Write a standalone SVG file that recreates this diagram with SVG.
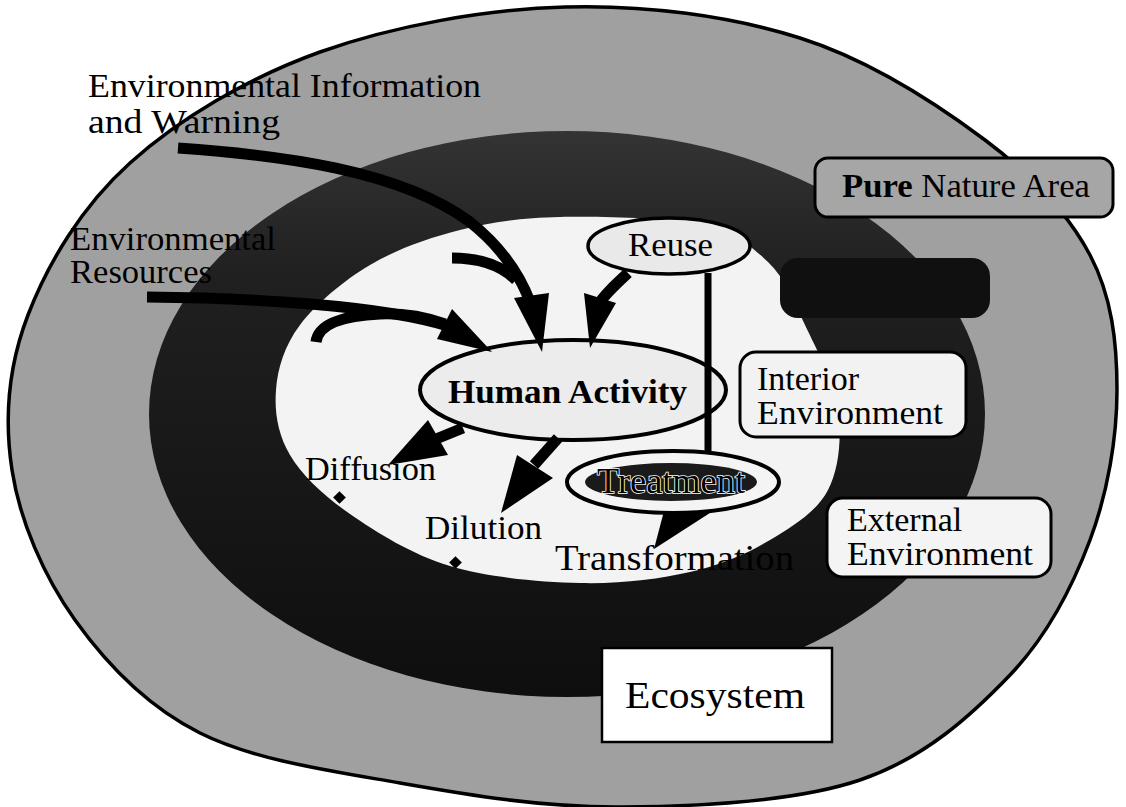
<svg xmlns="http://www.w3.org/2000/svg" width="1126" height="807" viewBox="0 0 1126 807">
<defs>
<style>
.t{font-family:"Liberation Serif","Times New Roman",serif;fill:#000;}
.shaft{fill:none;stroke:#000;stroke-width:11;stroke-linecap:butt;}
.head{fill:#000;stroke:none;}
.rbox{stroke:#000;stroke-width:3;}
</style>
<linearGradient id="darkg" x1="0" y1="130" x2="0" y2="700" gradientUnits="userSpaceOnUse">
<stop offset="0" stop-color="#343434"/>
<stop offset="0.25" stop-color="#202020"/>
<stop offset="1" stop-color="#0e0e0e"/>
</linearGradient>
</defs>
<rect x="0" y="0" width="1126" height="807" fill="#ffffff"/>

<g id="pure-nature-ring">
<path d="M565,7 C645,4.7 730,15.8 800,38 C870,60.2 936.7,103.8 985,140 C1033.3,176.2 1068,213.3 1090,255 C1112,296.7 1117,342.5 1117,390 C1117,437.5 1107.8,492.5 1090,540 C1072.2,587.5 1048.3,635 1010,675 C971.7,715 925,758 860,780 C795,802 696.7,806.5 620,807 C543.3,807.5 470,795.3 400,783 C330,770.7 254.2,760.2 200,733 C145.8,705.8 106.3,663.8 75,620 C43.7,576.2 19.8,520.8 12,470 C4.2,419.2 8.3,366.2 28,315 C47.7,263.8 81.3,206.8 130,163 C178.7,119.2 247.5,78 320,52 C392.5,26 485,9.3 565,7 Z" fill="#a0a0a0" stroke="#000" stroke-width="3.5"/>
</g>

<g id="dark-ring">
<ellipse cx="567" cy="414" rx="418" ry="283" fill="url(#darkg)"/>
</g>

<g id="interior-area">
<path d="M560,217 C600,216.2 665.3,217.5 700,225 C734.7,232.5 750.5,245.3 768,262 C785.5,278.7 793.3,300.3 805,325 C816.7,349.7 834.2,382.5 838,410 C841.8,437.5 839.3,468.3 828,490 C816.7,511.7 793,526.3 770,540 C747,553.7 721.7,564.8 690,572 C658.3,579.2 620,584 580,583 C540,582 488.3,577.5 450,566 C411.7,554.5 376.7,532.5 350,514 C323.3,495.5 302.3,475.7 290,455 C277.7,434.3 274.3,411.7 276,390 C277.7,368.3 284.3,345.8 300,325 C315.7,304.2 343.3,280.8 370,265 C396.7,249.2 428.3,238 460,230 C491.7,222 520,217.8 560,217 Z" fill="#f3f3f3"/>
</g>

<g id="dark-box">
<rect x="780" y="258" width="210" height="60" rx="18" fill="#101010"/>
</g>

<g id="pure-nature-label">
<rect class="rbox" x="815" y="158" width="298" height="59" rx="13" fill="#a6a6a6"/>
<text class="t" x="842" y="197" font-size="33" textLength="248" lengthAdjust="spacingAndGlyphs"><tspan font-weight="bold">Pure</tspan> Nature Area</text>
</g>

<g id="env-info-label">
<text class="t" x="88" y="97" font-size="33" textLength="393" lengthAdjust="spacingAndGlyphs">Environmental Information</text>
<text class="t" x="88" y="133" font-size="33" textLength="192" lengthAdjust="spacingAndGlyphs">and Warning</text>
</g>

<g id="env-resources-label">
<text class="t" x="70" y="250" font-size="33" textLength="206" lengthAdjust="spacingAndGlyphs">Environmental</text>
<text class="t" x="70" y="283" font-size="33" textLength="142" lengthAdjust="spacingAndGlyphs">Resources</text>
</g>

<g id="human-activity">
<ellipse cx="573" cy="390" rx="153" ry="50" fill="#ececec" stroke="#000" stroke-width="4"/>
<text class="t" x="448" y="403" font-size="34" font-weight="bold" textLength="239" lengthAdjust="spacingAndGlyphs">Human Activity</text>
</g>

<g id="reuse">
<ellipse cx="669" cy="246" rx="81" ry="28" fill="#e9e9e9" stroke="#000" stroke-width="3.5"/>
<text class="t" x="628" y="256" font-size="34" textLength="85" lengthAdjust="spacingAndGlyphs">Reuse</text>
</g>

<g id="treatment">
<ellipse cx="673" cy="482" rx="106" ry="31" fill="#f4f4f4" stroke="#000" stroke-width="4"/>
<ellipse cx="671" cy="482" rx="86" ry="19" fill="#1a1a1a"/>
<text class="t" x="597" y="493" font-size="35" textLength="148" lengthAdjust="spacingAndGlyphs" stroke="#fff" stroke-width="1.6" paint-order="stroke">Treatment</text>
</g>

<g id="interior-environment">
<rect class="rbox" x="740" y="352" width="226" height="85" rx="16" fill="#f2f2f2"/>
<text class="t" x="757" y="390" font-size="34">Interior</text>
<text class="t" x="757" y="424" font-size="34" textLength="186" lengthAdjust="spacingAndGlyphs">Environment</text>
</g>

<g id="external-environment">
<rect class="rbox" x="827" y="498" width="224" height="79" rx="16" fill="#f4f4f4"/>
<text class="t" x="847" y="531" font-size="34">External</text>
<text class="t" x="847" y="565" font-size="34" textLength="186" lengthAdjust="spacingAndGlyphs">Environment</text>
</g>

<g id="ecosystem">
<rect x="602" y="648" width="230" height="94" fill="#ffffff" stroke="#000" stroke-width="2.5"/>
<text class="t" x="625" y="708" font-size="38" textLength="180" lengthAdjust="spacingAndGlyphs">Ecosystem</text>
</g>

<g id="diffusion">
<text class="t" x="305" y="480" font-size="33" textLength="131" lengthAdjust="spacingAndGlyphs">Diffusion</text>
<rect x="335" y="493" width="9" height="9" transform="rotate(45 339.5 497.5)" fill="#000"/>
</g>

<g id="dilution">
<text class="t" x="425" y="539" font-size="33" textLength="117" lengthAdjust="spacingAndGlyphs">Dilution</text>
<rect x="451" y="558" width="9" height="9" transform="rotate(45 455.5 562.5)" fill="#000"/>
</g>

<g id="transformation">
<text class="t" x="555" y="570" font-size="35" textLength="239" lengthAdjust="spacingAndGlyphs">Transformation</text>
</g>

<g id="connectors">
<path class="shaft" d="M178,148 C280,155 400,170 470,222 C500,246 520,275 530,302"/>
<path class="shaft" stroke-width="10" d="M452,258 C478,258 500,264 516,280"/>
<polygon class="head" points="514,298 549,293 542,352"/>
<path class="shaft" d="M147,297 C250,298 380,305 448,326"/>
<path class="shaft" stroke-width="12" stroke-linecap="round" d="M316,342 C318,325 340,316 380,314 C405,313 425,317 445,324"/>
<polygon class="head" points="452,309 437,339 492,352"/>
<path class="shaft" stroke-width="10" d="M628,273 C615,285 604,295 598,305"/>
<polygon class="head" points="584,293 616,303 590,348"/>
<line x1="708" y1="273" x2="708" y2="452" stroke="#000" stroke-width="7"/>
<path class="shaft" d="M463,428 L436,439"/>
<polygon class="head" points="428,420 448,455 388,465"/>
<path class="shaft" d="M558,438 L534,465"/>
<polygon class="head" points="517,455 553,478 501,513"/>
<polygon class="head" points="664,511 713,511 654,549"/>
</g>
</svg>
